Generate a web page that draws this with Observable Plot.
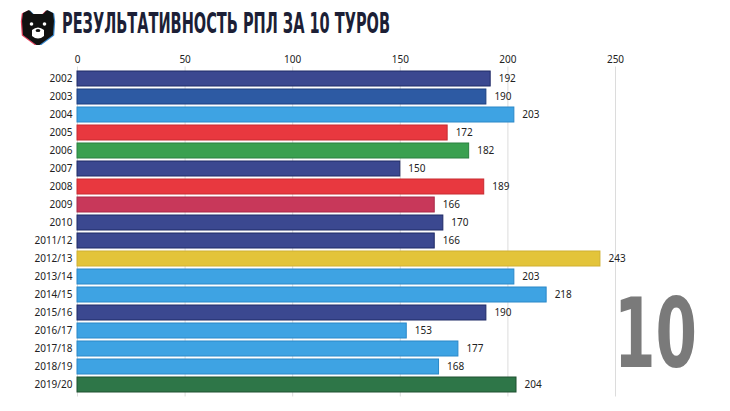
<!DOCTYPE html>
<html>
<head>
<meta charset="utf-8">
<script src="https://cdn.jsdelivr.net/npm/d3@7"></script>
<script src="https://cdn.jsdelivr.net/npm/@observablehq/plot@0.6"></script>
<style>
  body { margin: 0; background: #fff; width: 730px; height: 411px; overflow: hidden; position: relative; font-family: "Noto Sans", "Open Sans", sans-serif; }
  #header { position: absolute; left: 0; top: 0; width: 730px; height: 45px; }
  #chart { position: absolute; left: 0; top: 45px; }
  #big { position: absolute; left: 600px; top: 280px; pointer-events: none; overflow: visible; }
</style>
</head>
<body>
<svg id="header" width="730" height="45">
  <g transform="translate(20,9)">
    <path d="M3,4 L9,1 L13,5 L23,5 L27,1 L33,4 L34,12 L33,26 L18,37 L3,26 L2,12 Z" fill="#e0405a" transform="translate(-1.2,0.6)"/>
    <path d="M3,4 L9,1 L13,5 L23,5 L27,1 L33,4 L34,12 L33,26 L18,37 L3,26 L2,12 Z" fill="#3a8ad0" transform="translate(1.2,0.6)"/>
    <path d="M3,4 L9,1 L13,5 L23,5 L27,1 L33,4 L34,12 L33,26 L18,37 L3,26 L2,12 Z" fill="#111"/>
    <circle cx="11.5" cy="15" r="1.8" fill="#fff"/>
    <circle cx="24.5" cy="15" r="1.8" fill="#fff"/>
    <path d="M12,21 Q18,16 24,21 L24,27 Q18,32 12,27 Z" fill="#fff"/>
    <ellipse cx="18" cy="21.5" rx="2.4" ry="1.6" fill="#111"/>
  </g>
  <text id="title" x="62" y="33" textLength="328" lengthAdjust="spacingAndGlyphs"
        font-family="'Liberation Sans Narrow','DejaVu Sans Condensed','Roboto',sans-serif"
        font-weight="bold" font-size="29" fill="#1c1f36"></text>
</svg>
<div id="chart"></div>
<svg id="big" width="120" height="115">
  <text id="round" x="0" y="0"
        font-family="'DejaVu Sans Condensed','Liberation Sans Narrow',sans-serif"
        font-weight="bold" font-size="96" fill="#7a7a7a"></text>
</svg>
<script>
const titleText = "РЕЗУЛЬТАТИВНОСТЬ РПЛ ЗА 10 ТУРОВ";
const roundLabel = "10";
const seasons = ["2002","2003","2004","2005","2006","2007","2008","2009","2010","2011/12","2012/13","2013/14","2014/15","2015/16","2016/17","2017/18","2018/19","2019/20"];
const goals = [192,190,203,172,182,150,189,166,170,166,243,203,218,190,153,177,168,204];
const fills = ["#3b4890","#2d5aa3","#3ea3e3","#e8383f","#3aa050","#3b4890","#e8383f","#c8385a","#3b4890","#3b4890","#e3c43a","#3ea3e3","#3ea3e3","#3b4890","#3ea3e3","#3ea3e3","#3ea3e3","#2e7648"];
const strokes = ["#1f2a66","#1c3f80","#2a88c8","#c82a30","#2a8040","#1f2a66","#c82a30","#a82a48","#1f2a66","#1f2a66","#d0b030","#2a88c8","#2a88c8","#1f2a66","#2a88c8","#2a88c8","#2a88c8","#1f5030"];
const xTicks = [0,50,100,150,200,250];

document.getElementById("title").textContent = titleText;

// big round number, scaled to fit its slot (x 614–697, baseline y 367)
const round = document.getElementById("round");
round.textContent = roundLabel;
const w = round.getComputedTextLength() || 108;
const sx = 83 / w;
round.setAttribute("transform", `translate(14,87) scale(${sx},1)`);

const data = seasons.map((s, i) => ({season: s, goals: goals[i], fill: fills[i], stroke: strokes[i]}));

const chart = Plot.plot({
  width: 730,
  height: 366,
  marginLeft: 77,
  marginRight: 115,
  marginTop: 21.5,
  marginBottom: 14.5,
  style: {fontFamily: "'Noto Sans','Open Sans',sans-serif", fontSize: "10px", color: "#222", background: "transparent"},
  x: {domain: [0, 250], ticks: xTicks, axis: "top", label: null, tickSize: 0, tickPadding: 4},
  y: {domain: seasons, padding: 0.15, label: null, tickSize: 0, tickPadding: 5},
  marks: [
    Plot.gridX(xTicks, {stroke: "#dcdcdc", strokeOpacity: 1, strokeWidth: 1}),
    Plot.barX(data, {x: "goals", y: "season", fill: d => d.fill, stroke: d => d.stroke, strokeWidth: 1}),
    Plot.text(data, {x: "goals", y: "season", text: d => String(d.goals), textAnchor: "start", dx: 8, fill: "#222", fontSize: 10})
  ]
});
document.getElementById("chart").appendChild(chart);
</script>
</body>
</html>
